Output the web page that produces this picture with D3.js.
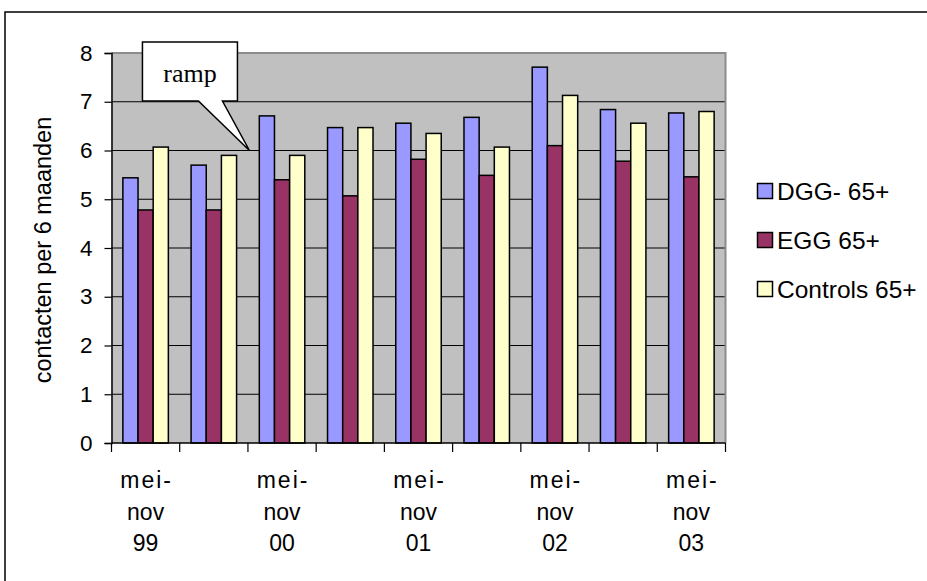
<!DOCTYPE html>
<html>
<head>
<meta charset="utf-8">
<script src="https://cdn.jsdelivr.net/npm/d3@7"></script>
<style>
  html, body { margin: 0; padding: 0; background: #ffffff; }
  svg { display: block; }
  text { font-family: Arial, "Liberation Sans", sans-serif; fill: #000; }
</style>
</head>
<body>
<svg id="chart" width="927" height="581"></svg>
<script>
// Average number of contacts per 6 months, per half-year period
const seriesNames = ["DGG- 65+", "EGG 65+", "Controls 65+"];
const seriesColors = ["#9999ff", "#993366", "#ffffcc"];
const dgg      = [5.44, 5.70, 6.71, 6.47, 6.56, 6.68, 7.71, 6.84, 6.77];
const egg      = [4.78, 4.78, 5.40, 5.07, 5.82, 5.49, 6.10, 5.78, 5.46];
const controls = [6.07, 5.90, 5.90, 6.47, 6.35, 6.07, 7.13, 6.56, 6.80];
// Category labels (only every other period is labelled on the axis)
const periodLabels = [
  ["mei-", "nov", "99"], [], ["mei-", "nov", "00"], [],
  ["mei-", "nov", "01"], [], ["mei-", "nov", "02"], [],
  ["mei-", "nov", "03"]
];
const yTicks = [0, 1, 2, 3, 4, 5, 6, 7, 8];
const yTitle = "contacten per 6 maanden";
const calloutText = "ramp";

const series = [dgg, egg, controls];
const periods = d3.range(dgg.length);

const svg = d3.select("#chart");
const plot = { left: 111.5, right: 725.5, top: 53, bottom: 443 };

// Outer chart frame
svg.append("rect")
  .attr("x", 5).attr("y", 12)
  .attr("width", 940).attr("height", 600)
  .attr("fill", "none").attr("stroke", "#000").attr("stroke-width", 1.5);

const x0 = d3.scaleBand().domain(periods).range([plot.left, plot.right]).padding(0);
const x1 = d3.scaleBand().domain(d3.range(series.length))
  .range([0, x0.bandwidth()]).paddingInner(0).paddingOuter(0.75);
const y = d3.scaleLinear().domain([0, 8]).range([plot.bottom, plot.top]);

// Plot background
svg.append("rect")
  .attr("x", plot.left).attr("y", plot.top)
  .attr("width", plot.right - plot.left).attr("height", plot.bottom - plot.top)
  .attr("fill", "#c0c0c0");

// Gridlines
svg.append("g").selectAll("line")
  .data(yTicks.filter(t => t > 0 && t < 8))
  .join("line")
  .attr("x1", plot.left).attr("x2", plot.right)
  .attr("y1", d => y(d)).attr("y2", d => y(d))
  .attr("stroke", "#000").attr("stroke-width", 1);

// Plot border (top and right)
svg.append("path")
  .attr("d", `M${plot.left},${plot.top}H${plot.right}V${plot.bottom}`)
  .attr("fill", "none").attr("stroke", "#8c8c8c").attr("stroke-width", 2);

// Bars
const groups = svg.append("g").selectAll("g")
  .data(periods)
  .join("g")
  .attr("transform", i => `translate(${x0(i)},0)`);

groups.selectAll("rect")
  .data(i => series.map((s, k) => ({ k, v: s[i] })))
  .join("rect")
  .attr("x", d => x1(d.k))
  .attr("width", x1.bandwidth())
  .attr("y", d => y(d.v))
  .attr("height", d => y(0) - y(d.v))
  .attr("fill", d => seriesColors[d.k])
  .attr("stroke", "#000").attr("stroke-width", 1.5);

// Y axis
const yAxis = d3.axisLeft(y).tickValues(yTicks).tickFormat(d3.format("d")).tickSize(7).tickPadding(12);
const gy = svg.append("g").attr("transform", `translate(${plot.left},0)`).call(yAxis);
gy.select(".domain").attr("stroke", "#000").attr("stroke-width", 1.5);
gy.selectAll(".tick line").attr("stroke", "#000").attr("stroke-width", 1.2);
gy.selectAll(".tick text")
  .style("font-family", "Arial, 'Liberation Sans', sans-serif")
  .style("font-size", "22.5px").attr("fill", "#000");

// X axis: baseline with tick marks at category boundaries
svg.append("line")
  .attr("x1", plot.left).attr("x2", plot.right)
  .attr("y1", plot.bottom).attr("y2", plot.bottom)
  .attr("stroke", "#000").attr("stroke-width", 1.5);
const boundaries = periods.map(i => x0(i)).concat([x0(periods[periods.length - 1]) + x0.bandwidth()]);
svg.append("g").selectAll("line")
  .data(boundaries)
  .join("line")
  .attr("x1", d => d).attr("x2", d => d)
  .attr("y1", plot.bottom).attr("y2", plot.bottom + 9)
  .attr("stroke", "#000").attr("stroke-width", 1.2);

// Category labels
const lineY = [488, 520, 551];
const labelG = svg.append("g");
periods.forEach(i => {
  periodLabels[i].forEach((txt, j) => {
    labelG.append("text")
      .attr("x", x0(i) + x0.bandwidth() / 2 + (j === 0 ? 1 : 0))
      .attr("y", lineY[j])
      .attr("text-anchor", "middle")
      .style("font-size", "23px")
      .style("letter-spacing", j === 0 ? "2px" : "0px")
      .text(txt);
  });
});

// Y axis title
svg.append("text")
  .attr("transform", `translate(51,250) rotate(-90)`)
  .attr("text-anchor", "middle")
  .style("font-size", "23.5px")
  .text(yTitle);

// Legend
const legend = svg.append("g");
const legendRows = [191, 240, 289];
seriesNames.forEach((name, k) => {
  legend.append("rect")
    .attr("x", 757.5).attr("y", legendRows[k] - 7.5)
    .attr("width", 15).attr("height", 15)
    .attr("fill", seriesColors[k]).attr("stroke", "#000").attr("stroke-width", 1.5);
  legend.append("text")
    .attr("x", 777).attr("y", legendRows[k] + 8.5)
    .style("font-size", "24.5px")
    .text(name);
});

// Callout pointing at the start of the third period
const tipX = x0(2) + 1.5, tipY = y(6);
const bx0 = tipX - 107, bx1 = tipX - 12, by0 = tipY - 108.5, by1 = tipY - 49.5;
svg.append("path")
  .attr("d", `M${bx0},${by0}H${bx1}V${by1}H${tipX - 27}L${tipX},${tipY}L${tipX - 51},${by1}H${bx0}Z`)
  .attr("fill", "#fff").attr("stroke", "#000").attr("stroke-width", 1.5)
  .attr("stroke-linejoin", "miter");
svg.append("text")
  .attr("x", (bx0 + bx1) / 2).attr("y", by0 + 40)
  .attr("text-anchor", "middle")
  .style("font-family", "'Times New Roman', 'Liberation Serif', serif")
  .style("font-size", "26px")
  .text(calloutText);
</script>
</body>
</html>
